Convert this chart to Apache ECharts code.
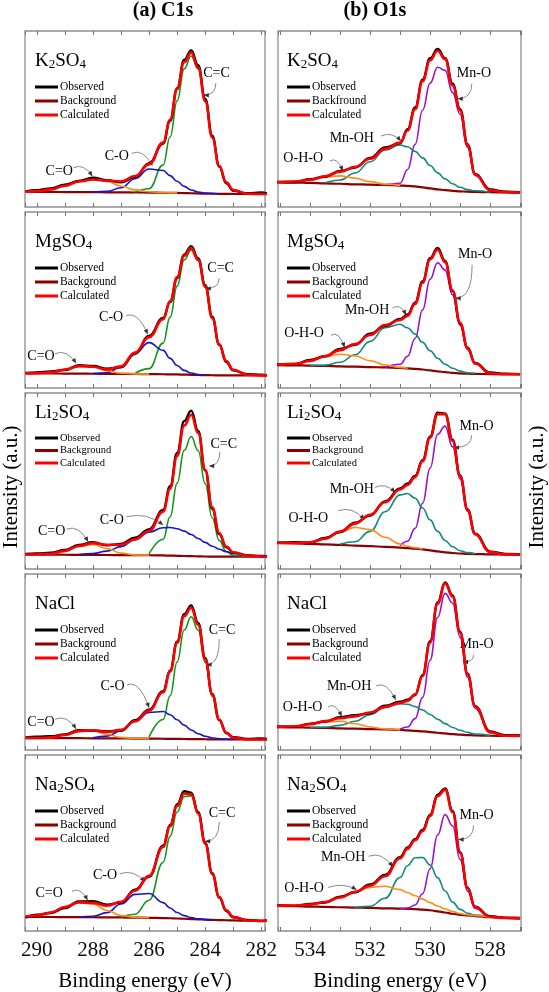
<!DOCTYPE html>
<html>
<head>
<meta charset="utf-8">
<script src="https://cdn.jsdelivr.net/npm/echarts@6.0.0/dist/echarts.min.js"></script>
<style>
html,body{margin:0;padding:0;background:#ffffff;}
#chart{width:549px;height:992px;}
</style>
</head>
<body>
<div id="chart"></div>
<script>
const _ = null;

// ---------- axes / categories ----------
const energyC1s = [290.4, 290.0, 289.5, 289.0, 288.5, 288.0, 287.5, 287.0, 286.5, 286.0, 285.5, 285.25, 285.0, 284.75, 284.5, 284.25, 284.0, 283.75, 283.5, 283.25, 283.0, 282.5, 282.0, 281.8];
const energyO1s = [535.1, 534.5, 534.0, 533.5, 533.0, 532.5, 532.0, 531.5, 531.0, 530.75, 530.5, 530.25, 530.0, 529.75, 529.5, 529.25, 529.0, 528.75, 528.5, 528.0, 527.5, 527.0];
const tickLabelsC1s = [290, 288, 286, 284, 282];
const tickLabelsO1s = [534, 532, 530, 528];
const samples = ['K2SO4', 'MgSO4', 'Li2SO4', 'NaCl', 'Na2SO4'];

// ---------- C1s ----------
const c1s_K2SO4_obs  = [8.9, 9.6, 10.6, 12.6, 14.8, 16.6, 15.2, 14.0, 17.0, 24.8, 36.0, 49.0, 67.5, 83.5, 89.0, 80.5, 61.5, 40.5, 23.0, 13.5, 9.2, 7.8, 8.2, 7.6];
const c1s_K2SO4_bg   = [8.6, 8.6, 8.55, 8.5, 8.45, 8.4, 8.35, 8.3, 8.25, 8.2, 8.1, 8.05, 8.0, 7.9, 7.8, 7.7, 7.6, 7.55, 7.5, 7.45, 7.4, 7.4, 7.4, 7.4];
const c1s_K2SO4_calc = [8.7, 9.0, 10.0, 12.1, 14.5, 15.6, 15.0, 14.5, 17.6, 24.2, 36.6, 49.6, 66.9, 82.3, 87.7, 79.1, 60.2, 39.5, 23.3, 14.0, 9.6, 7.5, 7.4, 7.4];
const c1s_K2SO4_CC   = [_, _, _, _, _, _, _, _, 8.4, 10.4, 23.9, 39.9, 60.3, 78.5, 85.8, 78.3, 59.9, 39.4, 23.3, 14.0, 9.6, 7.5, 7.4, _];
const c1s_K2SO4_CO   = [_, _, _, _, _, 8.4, 8.85, 10.9, 16.05, 21.6, 20.7, 17.85, 14.6, 11.7, 9.7, 8.5, 7.9, 7.65, 7.5, _, _, _, _, _];
const c1s_K2SO4_CdO  = [8.7, 9.05, 10.05, 12.1, 14.55, 15.6, 14.45, 11.9, 9.75, 8.65, 8.2, 8.05, 8.0, _, _, _, _, _, _, _, _, _, _, _];

const c1s_MgSO4_obs  = [8.6, 8.9, 9.4, 10.2, 12.9, 12.5, 10.9, 11.8, 19.5, 29.6, 39.8, 48.8, 62.4, 75.8, 80.6, 73.6, 58.4, 40.5, 24.5, 14.8, 10.0, 7.9, 7.6, 7.3];
const c1s_MgSO4_bg   = [8.3, 8.3, 8.25, 8.2, 8.15, 8.1, 8.05, 8.0, 7.95, 7.9, 7.8, 7.75, 7.7, 7.6, 7.5, 7.4, 7.3, 7.25, 7.2, 7.2, 7.2, 7.2, 7.2, 7.2];
const c1s_MgSO4_calc = [8.3, 8.4, 8.85, 10.5, 12.45, 12.1, 10.45, 12.3, 20.1, 28.9, 39.1, 49.35, 63.0, 75.1, 79.5, 72.8, 57.5, 39.75, 24.9, 15.3, 10.3, 7.5, 7.2, 7.2];
const c1s_MgSO4_CC   = [_, _, _, _, _, _, _, _, 8.25, 11.0, 25.5, 40.25, 57.9, 72.7, 78.5, 72.5, 57.5, 39.75, 24.9, 15.3, 10.3, 7.5, 7.2, _];
const c1s_MgSO4_CO   = [_, _, _, _, _, 8.15, 8.65, 11.9, 19.75, 25.8, 21.4, 16.85, 12.8, 10.0, 8.5, 7.7, 7.3, _, _, _, _, _, _, _];
const c1s_MgSO4_CdO  = [8.3, 8.4, 8.85, 10.5, 12.45, 12.1, 9.85, 8.4, 8.0, 7.9, _, _, _, _, _, _, _, _, _, _, _, _, _, _];

const c1s_Li2SO4_obs  = [8.5, 8.8, 9.2, 10.8, 13.6, 15.2, 13.4, 14.3, 17.8, 22.5, 33.5, 47.0, 66.0, 84.0, 90.0, 78.5, 56.0, 34.2, 19.8, 12.4, 9.3, 7.8, 7.4, 7.2];
const c1s_Li2SO4_bg   = [8.2, 8.2, 8.15, 8.1, 8.05, 8.0, 7.95, 7.9, 7.85, 7.8, 7.7, 7.6, 7.5, 7.4, 7.3, 7.2, 7.1, 7.05, 7.0, 7.0, 7.0, 7.0, 7.0, 7.0];
const c1s_Li2SO4_calc = [8.2, 8.25, 8.65, 10.3, 13.05, 14.7, 13.75, 13.8, 16.85, 21.6, 32.6, 45.75, 64.2, 81.5, 87.6, 77.3, 56.4, 35.1, 20.4, 12.8, 9.5, 7.6, 7.1, 7.0];
const c1s_Li2SO4_CC   = [_, _, _, _, _, _, _, _, _, 8.55, 16.9, 29.7, 48.8, 67.4, 75.3, 67.2, 48.4, 29.15, 16.2, 10.0, 7.75, 7.0, _, _];
const c1s_Li2SO4_CO   = [_, _, _, _, 8.25, 8.8, 10.15, 12.7, 16.65, 20.9, 23.4, 23.6, 22.9, 21.5, 19.6, 17.3, 15.1, 12.95, 11.2, 9.8, 8.8, 7.6, 7.1, 7.0];
const c1s_Li2SO4_CdO  = [8.2, 8.25, 8.55, 10.0, 12.85, 13.9, 11.55, 9.0, 8.05, 7.8, _, _, _, _, _, _, _, _, _, _, _, _, _, _];

const c1s_NaCl_obs  = [7.2, 7.5, 7.8, 8.9, 11.2, 11.0, 10.6, 11.0, 16.9, 22.9, 33.4, 45.2, 61.5, 77.2, 82.2, 72.2, 52.3, 31.9, 17.0, 9.6, 7.3, 6.3, 6.6, 6.2];
const c1s_NaCl_bg   = [6.8, 6.8, 6.75, 6.7, 6.7, 6.65, 6.6, 6.55, 6.5, 6.45, 6.4, 6.35, 6.3, 6.25, 6.2, 6.15, 6.1, 6.05, 6.0, 6.0, 6.0, 6.0, 6.0, 6.0];
const c1s_NaCl_calc = [6.8, 6.85, 7.15, 8.5, 10.75, 11.25, 10.2, 11.45, 16.3, 22.35, 32.8, 44.55, 60.9, 76.05, 80.9, 71.15, 51.5, 31.35, 17.3, 9.9, 7.0, 6.0, 6.0, 6.0];
const c1s_NaCl_CC   = [_, _, _, _, _, _, _, _, _, 7.45, 17.3, 30.85, 50.0, 68.15, 75.7, 68.05, 49.8, 30.55, 16.9, 9.8, 7.0, 6.0, _, _];
const c1s_NaCl_CO   = [_, _, _, _, _, 6.95, 7.9, 10.85, 16.2, 21.35, 21.9, 20.05, 17.2, 14.15, 11.4, 9.25, 7.8, 6.85, 6.4, 6.1, 6.0, _, _, _];
const c1s_NaCl_CdO  = [6.8, 6.85, 7.15, 8.5, 10.7, 10.95, 8.9, 7.15, 6.6, 6.45, _, _, _, _, _, _, _, _, _, _, _, _, _, _];

const c1s_Na2SO4_obs  = [7.6, 9.2, 10.2, 13.0, 16.8, 16.9, 15.0, 16.1, 23.5, 30.8, 48.5, 60.2, 72.0, 79.4, 78.6, 67.5, 50.2, 32.9, 19.0, 11.4, 7.8, 6.3, 5.6, 6.0];
const c1s_Na2SO4_bg   = [8.0, 8.0, 7.95, 7.9, 7.85, 7.8, 7.75, 7.7, 7.6, 7.5, 7.35, 7.25, 7.1, 6.95, 6.8, 6.6, 6.45, 6.3, 6.2, 6.1, 6.0, 5.9, 5.8, 5.8];
const c1s_Na2SO4_calc = [8.2, 8.8, 10.55, 13.6, 16.25, 16.0, 14.35, 16.6, 22.9, 31.3, 47.75, 59.55, 71.0, 78.15, 77.6, 66.8, 49.65, 32.4, 19.4, 11.8, 8.0, 6.0, 5.8, 5.8];
const c1s_Na2SO4_CC   = [_, _, _, _, _, _, _, 7.9, 9.5, 17.5, 38.95, 53.75, 67.6, 76.35, 76.8, 66.5, 49.55, 32.4, 19.4, 11.8, 8.0, 6.0, 5.8, _];
const c1s_Na2SO4_CO   = [_, _, _, _, 7.95, 8.4, 10.45, 15.3, 20.8, 21.3, 16.15, 13.05, 10.5, 8.75, 7.6, 6.9, 6.55, 6.3, _, _, _, _, _, _];
const c1s_Na2SO4_CdO  = [8.2, 8.8, 10.55, 13.6, 16.05, 15.4, 11.65, 8.8, 7.8, 7.5, _, _, _, _, _, _, _, _, _, _, _, _, _, _];

// ---------- O1s ----------
const o1s_K2SO4_obs  = [14.3, 14.2, 15.8, 17.2, 20.5, 22.4, 27.8, 33.8, 36.2, 44.2, 56.5, 72.4, 84.5, 89.8, 84.6, 70.0, 55.6, 35.6, 18.8, 10.0, 8.7, 8.4];
const o1s_K2SO4_bg   = [14.0, 13.9, 13.7, 13.4, 13.2, 12.9, 12.7, 12.5, 12.2, 12.0, 11.7, 11.2, 10.6, 10.0, 9.6, 9.2, 8.9, 8.7, 8.6, 8.4, 8.3, 8.2];
const o1s_K2SO4_calc = [14.1, 14.5, 15.5, 17.5, 20.0, 22.8, 27.4, 33.0, 36.6, 43.5, 55.5, 71.5, 83.4, 88.8, 84.0, 69.0, 55.0, 35.0, 18.5, 9.5, 8.5, 8.2];
const o1s_K2SO4_MnO  = [_, _, _, _, _, _, _, 12.6, 13.5, 21.3, 35.6, 55.0, 70.4, 79.4, 77.6, 65.0, 52.7, 33.8, 17.9, 9.5, 8.4, _];
const o1s_K2SO4_MnOH = [_, _, _, 13.8, 15.3, 19.3, 25.7, 32.4, 35.2, 34.2, 31.6, 27.9, 23.6, 19.4, 16.0, 13.2, 11.2, 9.9, 9.2, 8.4, _, _];
const o1s_K2SO4_OHO  = [14.1, 14.4, 15.4, 16.9, 17.7, 16.4, 14.4, 13.0, 12.3, _, _, _, _, _, _, _, _, _, _, _, _, _];

const o1s_MgSO4_obs  = [13.4, 13.5, 15.9, 18.0, 22.2, 24.6, 30.8, 35.2, 39.2, 41.8, 48.5, 60.5, 73.8, 79.6, 72.2, 55.0, 36.6, 22.9, 14.3, 8.8, 8.1, 7.9];
const o1s_MgSO4_bg   = [13.0, 12.9, 12.7, 12.5, 12.3, 12.1, 11.9, 11.7, 11.4, 11.2, 10.9, 10.5, 10.0, 9.5, 9.0, 8.6, 8.3, 8.1, 8.0, 7.9, 7.8, 7.8];
const o1s_MgSO4_calc = [13.1, 13.7, 15.4, 18.2, 21.5, 25.0, 30.1, 35.7, 38.6, 41.0, 47.8, 59.8, 73.0, 78.6, 71.5, 55.4, 37.0, 22.5, 13.9, 8.4, 7.8, 7.8];
const o1s_MgSO4_MnO  = [_, _, _, _, _, _, _, 11.8, 13.5, 18.0, 28.1, 44.4, 61.8, 71.2, 67.0, 52.8, 35.7, 21.9, 13.6, 8.4, 7.8, _];
const o1s_MgSO4_MnOH = [_, _, 12.8, 13.0, 14.6, 18.9, 26.5, 34.2, 36.2, 34.2, 30.6, 25.9, 21.2, 16.9, 13.5, 11.2, 9.6, 8.7, 8.3, _, _, _];
const o1s_MgSO4_OHO  = [13.1, 13.7, 15.3, 17.7, 19.2, 18.2, 15.5, 13.1, 11.7, 11.2, _, _, _, _, _, _, _, _, _, _, _, _];

const o1s_Li2SO4_obs  = [15.0, 15.2, 15.0, 17.6, 21.0, 26.3, 30.4, 38.4, 45.8, 48.6, 52.8, 61.8, 75.2, 88.8, 88.3, 73.5, 53.2, 33.8, 20.1, 9.9, 8.6, 8.4];
const o1s_Li2SO4_bg   = [14.8, 14.6, 14.3, 14.0, 13.7, 13.3, 13.0, 12.6, 12.2, 11.9, 11.6, 11.1, 10.6, 10.0, 9.5, 9.1, 8.8, 8.6, 8.5, 8.3, 8.2, 8.2];
const o1s_Li2SO4_calc = [14.8, 14.8, 15.2, 17.2, 21.3, 25.8, 30.8, 37.9, 45.2, 47.8, 52.2, 61.2, 74.6, 88.0, 87.9, 72.9, 52.7, 33.4, 19.8, 9.6, 8.3, 8.2];
const o1s_Li2SO4_MnO  = [_, _, _, _, _, _, _, _, 13.3, 15.8, 23.1, 37.4, 57.3, 76.5, 81.2, 69.4, 51.1, 32.7, 19.6, 9.6, 8.3, _];
const o1s_Li2SO4_MnOH = [_, _, _, _, 14.1, 15.5, 21.4, 32.5, 42.1, 42.9, 40.2, 34.7, 27.9, 21.4, 16.2, 12.6, 10.4, 9.3, 8.7, _, _, _];
const o1s_Li2SO4_OHO  = [14.8, 14.8, 15.2, 17.2, 20.9, 23.6, 22.4, 18.0, 14.2, 12.9, 12.1, 11.3, _, _, _, _, _, _, _, _, _, _];

const o1s_NaCl_obs  = [13.4, 13.2, 15.0, 16.1, 18.6, 19.8, 20.8, 25.1, 27.4, 28.6, 31.2, 42.6, 61.8, 83.8, 95.2, 87.8, 67.2, 43.4, 24.9, 10.5, 8.4, 8.2];
const o1s_NaCl_bg   = [13.0, 12.9, 12.7, 12.5, 12.3, 12.1, 11.9, 11.7, 11.4, 11.2, 10.9, 10.6, 10.2, 9.8, 9.4, 9.0, 8.7, 8.5, 8.3, 8.1, 8.0, 8.0];
const o1s_NaCl_calc = [13.1, 13.5, 14.6, 16.4, 18.0, 19.1, 21.3, 24.5, 26.7, 27.9, 31.6, 42.0, 61.0, 83.0, 94.6, 87.2, 66.6, 42.8, 24.6, 10.1, 8.1, 8.0];
const o1s_NaCl_MnO  = [_, _, _, _, _, _, _, _, 11.8, 13.1, 17.8, 29.9, 51.0, 75.3, 89.0, 83.4, 64.1, 41.3, 23.8, 9.9, 8.1, _];
const o1s_NaCl_MnOH = [_, _, 12.8, 13.0, 14.0, 16.3, 20.1, 24.2, 26.3, 26.0, 24.7, 22.7, 20.2, 17.5, 15.0, 12.8, 11.2, 10.0, 9.1, 8.3, _, _];
const o1s_NaCl_OHO  = [13.1, 13.5, 14.5, 15.9, 16.3, 14.9, 13.1, 12.0, 11.4, _, _, _, _, _, _, _, _, _, _, _, _, _];

const o1s_Na2SO4_obs  = [14.7, 14.3, 15.4, 16.2, 19.5, 22.0, 26.4, 31.8, 42.0, 47.5, 52.2, 57.4, 66.0, 77.5, 81.0, 68.2, 44.8, 24.6, 13.8, 8.4, 7.6, 7.4];
const o1s_Na2SO4_bg   = [14.3, 14.1, 13.9, 13.7, 13.5, 13.3, 13.1, 12.9, 12.7, 12.6, 12.4, 12.2, 11.8, 11.2, 10.5, 9.8, 9.2, 8.8, 8.5, 7.9, 7.4, 7.2];
const o1s_Na2SO4_calc = [14.4, 14.5, 15.0, 16.5, 19.0, 22.3, 25.8, 31.1, 41.3, 46.8, 51.6, 56.7, 65.4, 76.6, 80.3, 67.6, 44.4, 24.3, 13.5, 8.1, 7.4, 7.2];
const o1s_Na2SO4_MnO  = [_, _, _, _, _, _, _, _, 12.8, 13.0, 14.8, 21.2, 35.4, 54.5, 66.1, 59.7, 40.6, 22.6, 12.8, 8.1, 7.4, _];
const o1s_Na2SO4_MnOH = [_, _, _, _, _, 13.4, 14.1, 18.6, 30.4, 37.1, 41.6, 41.8, 37.5, 30.3, 22.7, 16.4, 12.3, 10.1, 9.0, 7.9, _, _];
const o1s_Na2SO4_OHO  = [14.4, 14.5, 15.0, 16.5, 19.0, 22.2, 24.8, 25.4, 23.5, 21.9, 20.0, 18.1, 16.1, 14.2, 12.5, 11.1, 9.9, 9.2, 8.7, 7.9, _, _];

// ---------- annotation placement (label E, label y, arrow start E,y, arrow end E,y) ----------
const annC1s = {
  K2SO4:  [['C=C', 283.6, 76, 283.62, 70.5, 284.05, 63.5], ['C-O', 287.15, 28.6, 286.62, 30.5, 285.88, 23.5], ['C=O', 289.2, 20.1, 288.7, 22.3, 288.02, 17.5]],
  MgSO4:  [['C=C', 283.45, 68, 283.5, 62.5, 283.98, 56.5], ['C-O', 287.35, 40, 286.82, 41, 286.05, 30.5], ['C=O', 289.85, 18, 289.35, 19.5, 288.6, 14]],
  Li2SO4: [['C=C', 283.34, 70.6, 283.48, 66.5, 283.86, 58.5], ['C-O', 287.33, 27.8, 286.8, 29.7, 285.5, 25], ['C=O', 289.47, 21.2, 288.94, 22.6, 288.17, 15.5]],
  NaCl:   [['C=C', 283.4, 68, 283.5, 63, 283.95, 48.5], ['C-O', 287.3, 36, 286.78, 37, 286.0, 24], ['C=O', 289.85, 16, 289.35, 17.5, 288.6, 12]],
  Na2SO4: [['C=C', 283.4, 67, 283.5, 62, 284.0, 51], ['C-O', 287.57, 31.8, 287.05, 32.5, 286.15, 28], ['C=O', 289.56, 21.6, 288.75, 22.5, 288.19, 17.5]]
};
const annO1s = {
  K2SO4:  [['Mn-O', 528.54, 76, 528.61, 70, 529.08, 61.5], ['Mn-OH', 532.61, 39, 531.64, 40.3, 530.97, 37.5], ['O-H-O', 534.23, 27.7, 533.34, 26.1, 532.91, 20.5]],
  MgSO4:  [['Mn-O', 528.5, 76, 528.6, 70, 529.15, 51], ['Mn-OH', 532.1, 44, 531.25, 45.5, 530.8, 41.5], ['O-H-O', 534.2, 31, 533.3, 30, 532.85, 23]],
  Li2SO4: [['Mn-O', 528.45, 80.9, 528.61, 76.1, 529.2, 69], ['Mn-OH', 532.61, 45.3, 531.84, 46.4, 531.17, 43.5], ['O-H-O', 534.06, 28.8, 533.06, 33.1, 532.19, 28]],
  NaCl:   [['Mn-O', 528.45, 60, 528.55, 54, 528.9, 50], ['Mn-OH', 532.7, 36, 531.8, 36.5, 531.15, 28.5], ['O-H-O', 534.25, 24, 533.4, 24.5, 532.95, 19]],
  Na2SO4: [['Mn-O', 528.45, 66, 528.55, 60, 529.05, 52], ['Mn-OH', 532.9, 42, 532.05, 42.5, 531.25, 36.5], ['O-H-O', 534.2, 24.5, 533.4, 24.8, 532.45, 23.5]]
};

// ---------- build ----------
const FONT = "'Liberation Serif','Times New Roman',serif";
const dataC1s = {
  K2SO4:  {obs: c1s_K2SO4_obs,  bg: c1s_K2SO4_bg,  calc: c1s_K2SO4_calc,  comps: [c1s_K2SO4_CC,  c1s_K2SO4_CO,  c1s_K2SO4_CdO]},
  MgSO4:  {obs: c1s_MgSO4_obs,  bg: c1s_MgSO4_bg,  calc: c1s_MgSO4_calc,  comps: [c1s_MgSO4_CC,  c1s_MgSO4_CO,  c1s_MgSO4_CdO]},
  Li2SO4: {obs: c1s_Li2SO4_obs, bg: c1s_Li2SO4_bg, calc: c1s_Li2SO4_calc, comps: [c1s_Li2SO4_CC, c1s_Li2SO4_CO, c1s_Li2SO4_CdO]},
  NaCl:   {obs: c1s_NaCl_obs,   bg: c1s_NaCl_bg,   calc: c1s_NaCl_calc,   comps: [c1s_NaCl_CC,   c1s_NaCl_CO,   c1s_NaCl_CdO]},
  Na2SO4: {obs: c1s_Na2SO4_obs, bg: c1s_Na2SO4_bg, calc: c1s_Na2SO4_calc, comps: [c1s_Na2SO4_CC, c1s_Na2SO4_CO, c1s_Na2SO4_CdO]}
};
const dataO1s = {
  K2SO4:  {obs: o1s_K2SO4_obs,  bg: o1s_K2SO4_bg,  calc: o1s_K2SO4_calc,  comps: [o1s_K2SO4_MnO,  o1s_K2SO4_MnOH,  o1s_K2SO4_OHO]},
  MgSO4:  {obs: o1s_MgSO4_obs,  bg: o1s_MgSO4_bg,  calc: o1s_MgSO4_calc,  comps: [o1s_MgSO4_MnO,  o1s_MgSO4_MnOH,  o1s_MgSO4_OHO]},
  Li2SO4: {obs: o1s_Li2SO4_obs, bg: o1s_Li2SO4_bg, calc: o1s_Li2SO4_calc, comps: [o1s_Li2SO4_MnO, o1s_Li2SO4_MnOH, o1s_Li2SO4_OHO]},
  NaCl:   {obs: o1s_NaCl_obs,   bg: o1s_NaCl_bg,   calc: o1s_NaCl_calc,   comps: [o1s_NaCl_MnO,   o1s_NaCl_MnOH,   o1s_NaCl_OHO]},
  Na2SO4: {obs: o1s_Na2SO4_obs, bg: o1s_Na2SO4_bg, calc: o1s_Na2SO4_calc, comps: [o1s_Na2SO4_MnO, o1s_Na2SO4_MnOH, o1s_Na2SO4_OHO]}
};

const columns = [
  {energy: energyC1s, range: [281.87, 290.42], ticks: tickLabelsC1s, data: dataC1s, ann: annC1s,
   compColors: ['#14961a', '#1616c8', '#ff8c1a'], left: 25, width: 240, legX: 10,
   title: '(a) C1s', titleX: 163, axisTitleX: 145},
  {energy: energyO1s, range: [526.97, 535.07], ticks: tickLabelsO1s, data: dataO1s, ann: annO1s,
   compColors: ['#9a12c8', '#0f8a7e', '#ff8c1a'], left: 278, width: 243, legX: 9,
   title: '(b) O1s', titleX: 375, axisTitleX: 400}
];
const rowTop = [31, 212, 393, 574, 755];
const rowH = 176;

const chart = echarts.init(document.getElementById('chart'), null, {renderer: 'canvas'});
const grids = [], xAxes = [], yAxes = [], series = [], panels = [];
let gi = 0;
columns.forEach((col, c) => {
  samples.forEach((s, r) => {
    const d = col.data[s];
    grids.push({left: col.left, top: rowTop[r], width: col.width, height: rowH, show: true,
      borderColor: '#8e8e8e', borderWidth: 1.3, backgroundColor: 'transparent'});
    const tick = {show: true, inside: true, length: 4, lineStyle: {color: '#777', width: 1}};
    const isBottom = r === samples.length - 1;
    const fmt = (v) => {
      const n = Math.round(v);
      return (Math.abs(v - n) < 1e-6 && col.ticks.indexOf(n) >= 0) ? String(n) : '';
    };
    xAxes.push({gridIndex: gi, type: 'value', min: col.range[0], max: col.range[1], inverse: true,
      splitNumber: 8, position: 'bottom', axisLine: {show: false}, splitLine: {show: false}, axisTick: tick,
      axisLabel: isBottom ? {show: true, margin: 9, fontFamily: FONT, fontSize: 21, color: '#111', formatter: fmt,
        showMinLabel: true, showMaxLabel: true} : {show: false}});
    xAxes.push({gridIndex: gi, type: 'value', min: col.range[0], max: col.range[1], inverse: true,
      splitNumber: 8, position: 'top', axisLine: {show: false}, splitLine: {show: false}, axisTick: tick,
      axisLabel: {show: false}});
    yAxes.push({gridIndex: gi, type: 'value', min: 0, max: 100, show: false});
    const mk = (arr) => col.energy.map((e, k) => [e, arr[k]]);
    const base = {type: 'line', xAxisIndex: 2 * gi, yAxisIndex: gi, symbol: 'none', showSymbol: false,
      smooth: 0.45, smoothMonotone: 'x', silent: true, animation: false, connectNulls: false};
    series.push(Object.assign({}, base, {data: mk(d.bg), lineStyle: {color: '#8b0000', width: 2.2}}));
    d.comps.forEach((arr, j) => series.push(Object.assign({}, base, {data: mk(arr), lineStyle: {color: col.compColors[j], width: 1.6}})));
    series.push(Object.assign({}, base, {data: mk(d.obs), lineStyle: {color: '#000000', width: 2.4}}));
    series.push(Object.assign({}, base, {data: mk(d.calc), lineStyle: {color: '#ff0000', width: 2.6}}));
    panels.push({gi, c, r, s});
    gi++;
  });
});

chart.setOption({
  animation: false,
  backgroundColor: '#ffffff',
  grid: grids, xAxis: xAxes, yAxis: yAxes, series: series
});

// ---------- decorations ----------
const names = {
  K2SO4: '{a|K}{s|2}{a|SO}{s|4}', MgSO4: '{a|MgSO}{s|4}', Li2SO4: '{a|Li}{s|2}{a|SO}{s|4}',
  NaCl: '{a|NaCl}', Na2SO4: '{a|Na}{s|2}{a|SO}{s|4}'
};
const rich = {
  a: {fontSize: 19, fontFamily: FONT, fill: '#000', verticalAlign: 'top', lineHeight: 19, padding: [0, 0, 5, 0]},
  s: {fontSize: 13, fontFamily: FONT, fill: '#000', verticalAlign: 'bottom', lineHeight: 13}
};
const g = [];
columns.forEach((col) => {
  g.push({type: 'text', x: col.titleX, y: 11, style: {text: col.title, fontSize: 20, fontWeight: 'bold', fontFamily: FONT, fill: '#000', align: 'center', verticalAlign: 'middle'}});
  g.push({type: 'text', x: col.axisTitleX, y: 981, style: {text: 'Binding energy (eV)', fontSize: 21, fontFamily: FONT, fill: '#000', align: 'center', verticalAlign: 'middle'}});
});
[11, 537].forEach((x) => {
  g.push({type: 'text', x: x, y: 487, rotation: Math.PI / 2, style: {text: 'Intensity (a.u.)', fontSize: 21, fontFamily: FONT, fill: '#000', align: 'center', verticalAlign: 'middle'}});
});
const legColors = ['#000000', '#8b0000', '#ff0000'];
panels.forEach((p) => {
  const col = columns[p.c];
  const top = rowTop[p.r], left = col.left;
  const compact = p.s === 'Li2SO4';
  g.push({type: 'text', x: left + col.legX, y: top + (compact ? 11 : 21), style: {text: names[p.s], rich: rich, align: 'left', verticalAlign: 'top'}});
  const legTexts = (p.c === 1 && p.s === 'K2SO4') ? ['Observed', 'Backfround', 'Calculated'] : ['Observed', 'Background', 'Calculated'];
  const ys = compact ? [45, 57.5, 70] : [56, 70, 84];
  legTexts.forEach((t, k) => {
    const y = top + ys[k];
    g.push({type: 'line', shape: {x1: left + col.legX, y1: y, x2: left + col.legX + 23, y2: y}, style: {stroke: legColors[k], lineWidth: 3}});
    g.push({type: 'text', x: left + col.legX + 25, y: y, style: {text: t, fontSize: compact ? 10.5 : 11.5, fontFamily: FONT, fill: '#000', align: 'left', verticalAlign: 'middle'}});
  });
  const finder = {xAxisIndex: 2 * p.gi, yAxisIndex: p.gi};
  col.ann[p.s].forEach((a) => {
    const L = chart.convertToPixel(finder, [a[1], a[2]]);
    const S = chart.convertToPixel(finder, [a[3], a[4]]);
    const E = chart.convertToPixel(finder, [a[5], a[6]]);
    g.push({type: 'text', x: L[0], y: L[1], style: {text: a[0], fontSize: 14, fontFamily: FONT, fill: '#000', align: 'center', verticalAlign: 'middle'}});
    let cp;
    if (S[0] > E[0]) cp = [S[0], E[1]];
    else cp = [S[0] + (E[0] - S[0]) * 0.55, Math.min(S[1], E[1]) - 5];
    g.push({type: 'bezierCurve', shape: {x1: S[0], y1: S[1], x2: E[0], y2: E[1], cpx1: cp[0], cpy1: cp[1]}, style: {stroke: '#8a8a8a', lineWidth: 1, fill: null}});
    let dx = E[0] - cp[0], dy = E[1] - cp[1];
    const len = Math.sqrt(dx * dx + dy * dy) || 1;
    dx /= len; dy /= len;
    const px = -dy, py = dx;
    g.push({type: 'polygon', shape: {points: [[E[0], E[1]], [E[0] - dx * 5 + px * 2.2, E[1] - dy * 5 + py * 2.2], [E[0] - dx * 5 - px * 2.2, E[1] - dy * 5 - py * 2.2]]}, style: {fill: '#333'}});
  });
});
chart.setOption({graphic: {elements: g}});
</script>
</body>
</html>
